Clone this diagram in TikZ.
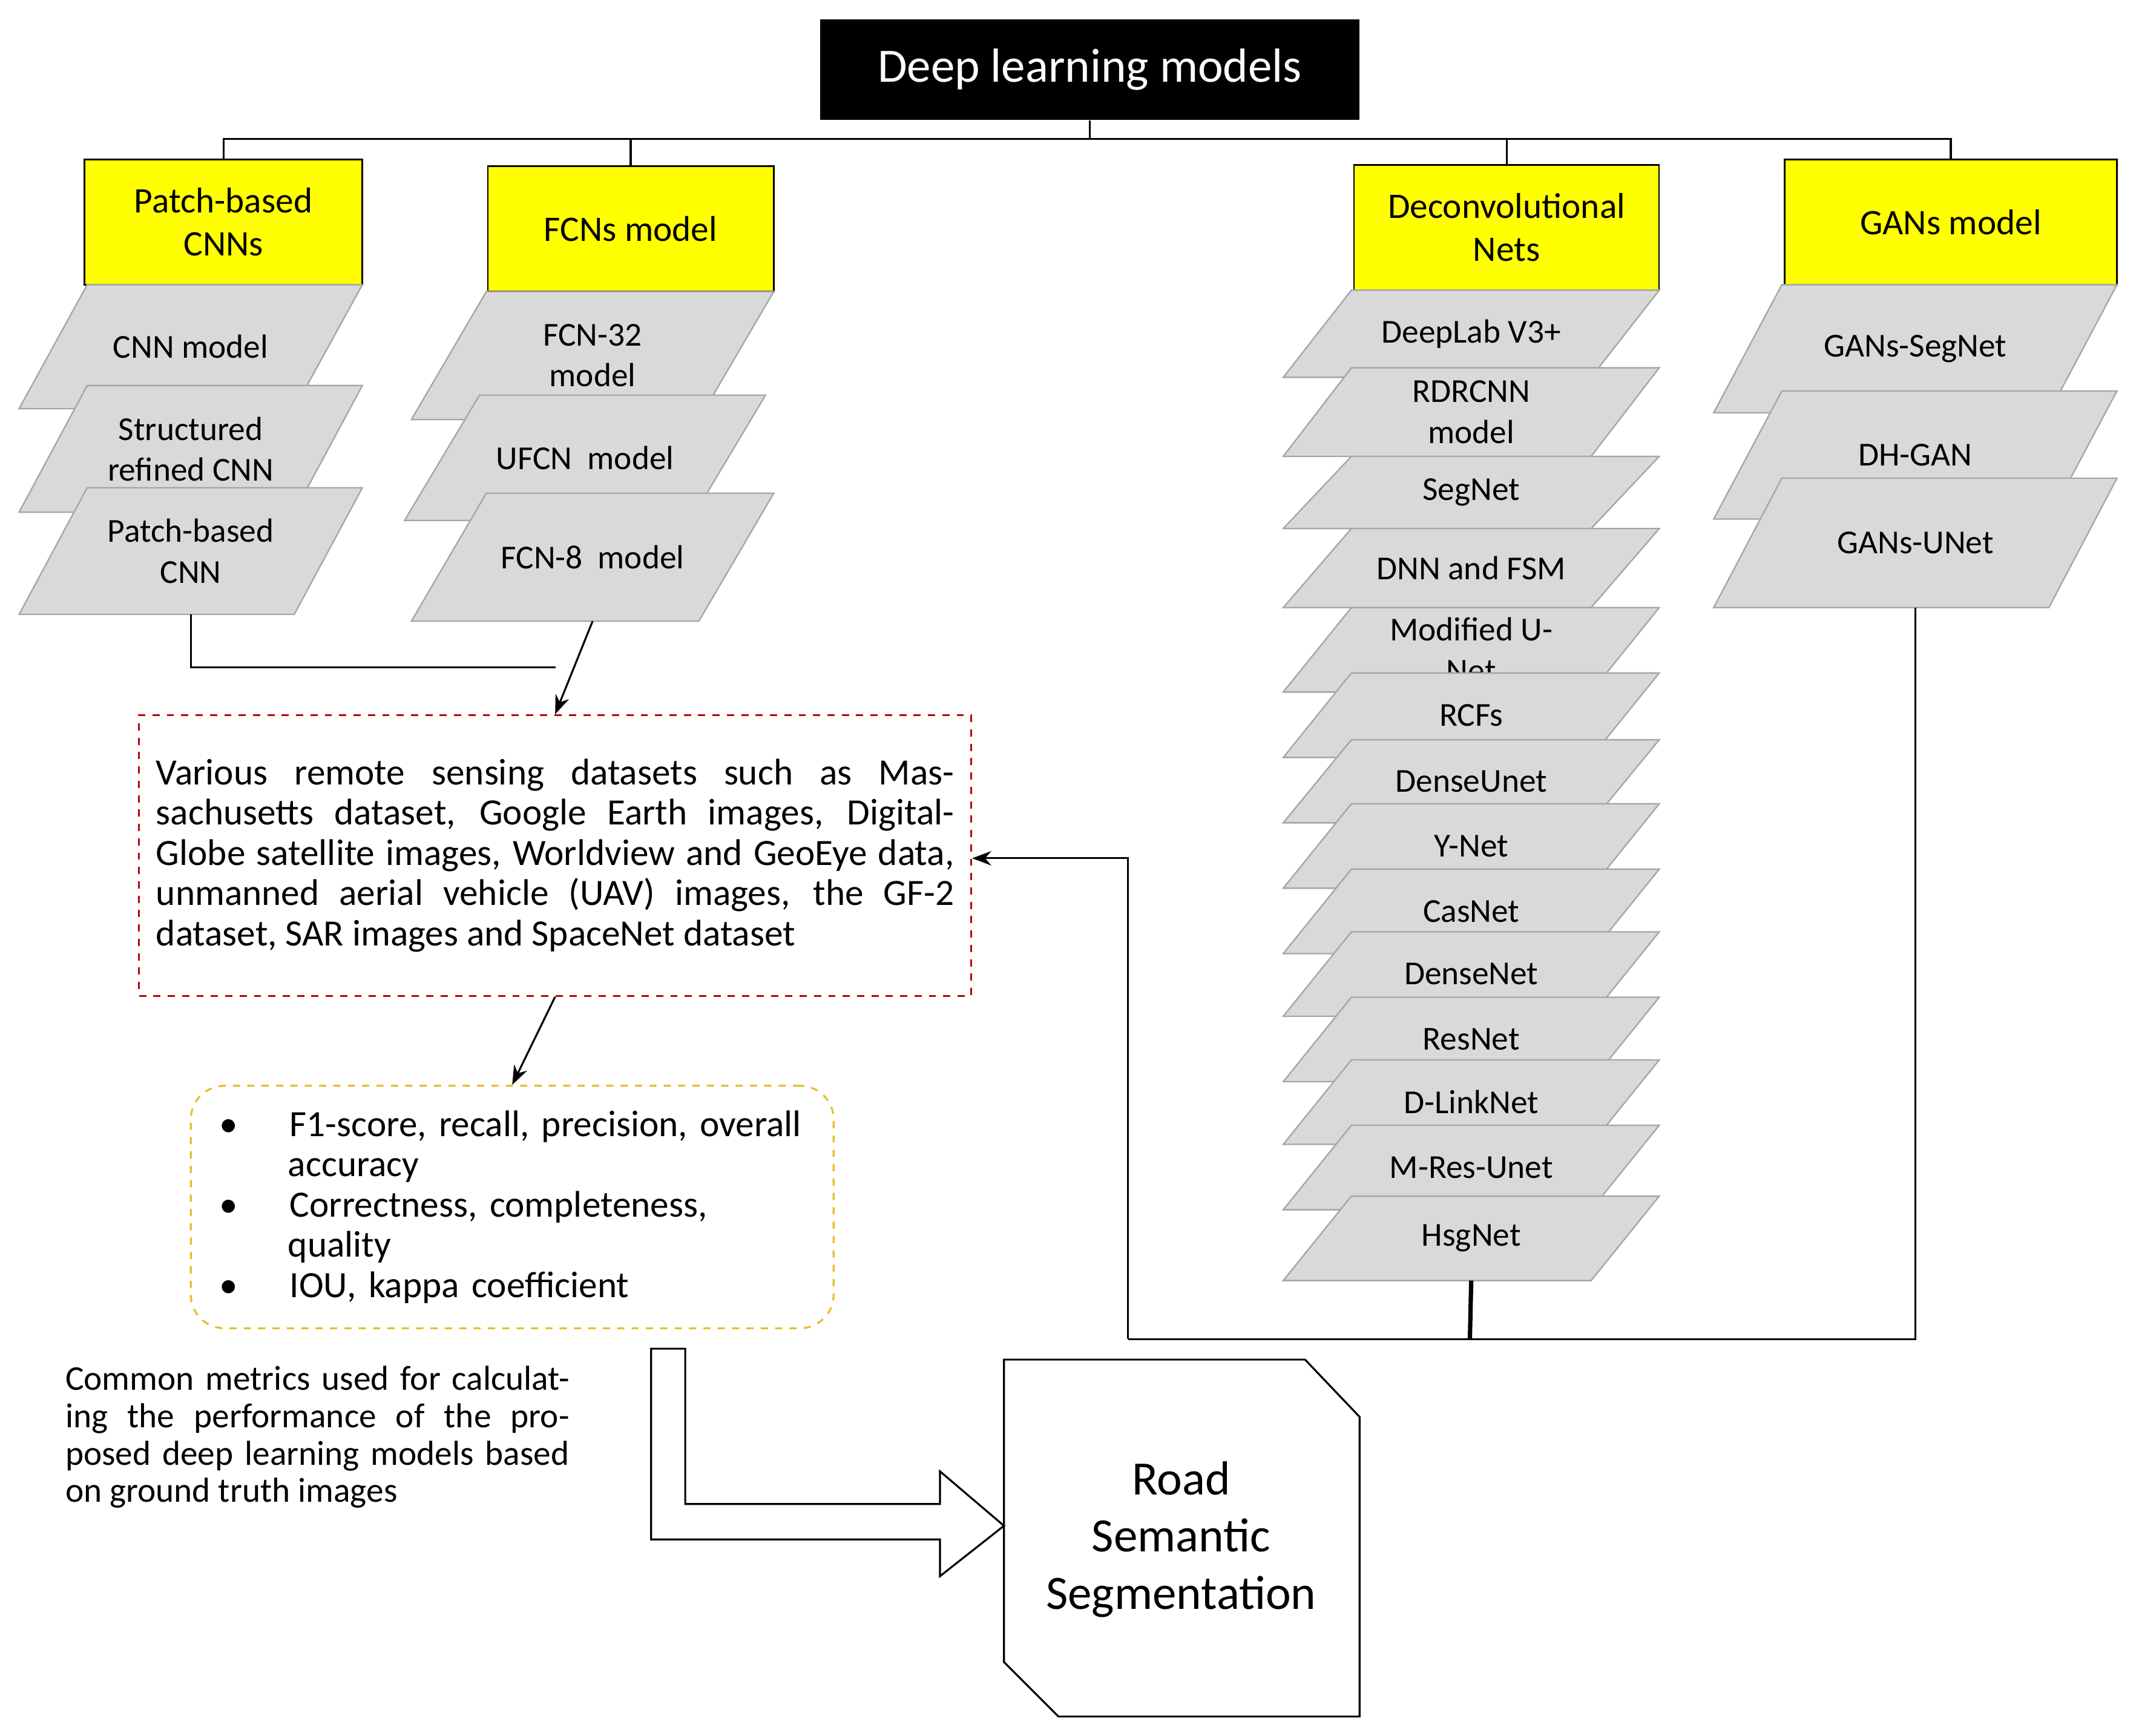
\documentclass[tikz,border=0pt]{standalone}
\usepackage{fontspec}
\setmainfont{Carlito}
\usetikzlibrary{calc,arrows.meta}
\definecolor{ybox}{RGB}{255,255,0}
\definecolor{gpar}{RGB}{217,217,217}
\definecolor{ddred}{RGB}{192,0,0}
\definecolor{ddyel}{RGB}{230,190,40}
\newcommand\fs[1]{\fontsize{#1}{\the\numexpr#1*6/5\relax}\selectfont}
% parallelogram: name, xl, xr, ytop, ybot, slant, text
\newcommand\plg[7]{%
  \draw[para] (#2+#6,#4) -- (#3,#4) -- (#3-#6,#5) -- (#2,#5) -- cycle;
  \node[ptext] (#1) at ({(#2+#3)/2},{(#4+#5)/2}) {#7};
  \coordinate (#1-b) at ({(#2+#3)/2},#5);}
\begin{document}
\begin{tikzpicture}[x=0.02cm,y=-0.02cm,
  para/.style={fill=gpar,draw=gray!70,line width=0.6pt},
  ptext/.style={font=\fs{14},align=center,inner sep=0pt},
  ybx/.style={fill=ybox,draw=black,line width=0.6pt,font=\fs{15},align=center},
  conn/.style={draw=black,line width=0.8pt},
  arr/.style={conn,-{Stealth[length=8pt,width=6pt]}}]
\useasboundingbox (0,0) rectangle (1568,1274);
% title
\node[fill=black,text=white,font=\fs{20},minimum width=7.92cm,minimum height=1.48cm] (title) at (800,51) {Deep learning models};
% category boxes
\node[ybx,minimum width=4.08cm,minimum height=1.84cm] (c1) at (164,163) {Patch-based\\CNNs};
\node[ybx,minimum width=4.2cm,minimum height=1.84cm] (c2) at (463,168) {FCNs model};
\node[ybx,minimum width=4.48cm,minimum height=1.84cm] (c3) at (1106,167) {Deconvolutional\\Nets};
\node[ybx,minimum width=4.88cm,minimum height=1.84cm] (c4) at (1432,163) {GANs model};
% tree
\coordinate (t0) at (800,102);
\draw[conn] (title.south) -- (t0);
\draw[conn] (c1.north) |- (t0) -| (c4.north);
\draw[conn] (c2.north) -- ++(0,-20);
\draw[conn] (c3.north) -- ++(0,-19);
% column 1
\plg{a1}{14}{266}{209}{300}{50}{CNN model}
\plg{a2}{14}{266}{283}{376}{50}{Structured\\refined CNN}
\plg{a3}{14}{266}{358}{451}{50}{Patch-based\\CNN}
% column 2
\plg{b1}{302}{568}{214}{308}{55}{FCN-32\\model}
\plg{b2}{297}{562}{290}{382}{55}{UFCN\ \ model}
\plg{b3}{302}{568}{362}{456}{55}{FCN-8\ \ model}
% column 3
\plg{d1}{942}{1218}{213}{277}{50}{DeepLab V3+}
\plg{d2}{942}{1218}{270}{335}{50}{RDRCNN\\model}
\plg{d3}{942}{1218}{335}{388}{50}{SegNet}
\plg{d4}{942}{1218}{388}{446}{50}{DNN and FSM}
\plg{d5}{942}{1218}{446}{508}{50}{Modified\ U-\\Net}
\plg{d6}{942}{1218}{494}{556}{50}{RCFs}
\plg{d7}{942}{1218}{543}{604}{50}{DenseUnet}
\plg{d8}{942}{1218}{590}{652}{50}{Y-Net}
\plg{d9}{942}{1218}{638}{700}{50}{CasNet}
\plg{d10}{942}{1218}{684}{746}{50}{DenseNet}
\plg{d11}{942}{1218}{732}{794}{50}{ResNet}
\plg{d12}{942}{1218}{778}{840}{50}{D-LinkNet}
\plg{d13}{942}{1218}{826}{888}{50}{M-Res-Unet}
\plg{d14}{942}{1218}{878}{940}{50}{HsgNet}
% column 4
\plg{e1}{1258}{1554}{209}{303}{50}{GANs-SegNet}
\plg{e2}{1258}{1554}{287}{381}{50}{DH-GAN}
\plg{e3}{1258}{1554}{351}{446}{50}{GANs-UNet}
% datasets
\node[draw=ddred,dashed,line width=0.8pt,minimum width=12.22cm,minimum height=4.12cm,text width=11.72cm,align=justify,font=\fontsize{15.5}{16.8pt}\selectfont,inner sep=0pt] (ds) at (407.5,628)
{Various remote sensing datasets such as Massachusetts dataset, Google Earth images, DigitalGlobe satellite images, Worldview and GeoEye data, unmanned aerial vehicle (UAV) images, the GF-2 dataset, SAR images and SpaceNet dataset};
% metrics
\node[draw=ddyel,dashed,rounded corners=14pt,line width=0.8pt,minimum width=9.44cm,minimum height=3.56cm,font=\fontsize{15.5}{16.8pt}\selectfont,align=left,text width=8.6cm,inner sep=0pt] (mt) at (376,886)
{\textbullet\hspace{1.4em}F1-score, recall, precision, overall\\
\hspace*{1.85em}accuracy\\
\textbullet\hspace{1.4em}Correctness, completeness,\\
\hspace*{1.85em}quality\\
\textbullet\hspace{1.4em}IOU, kappa coefficient};
\node[font=\fontsize{14.5}{15.6pt}\selectfont,text width=7.4cm,align=justify,inner sep=0pt] (cm) at (233,1055)
{Common metrics used for calculating the performance of the proposed deep learning models based on ground truth images};
% road box
\draw[line width=0.8pt] (737,998) -- (958,998) -- (998,1040) -- (998,1260) -- (777,1260) -- (737,1220) -- cycle;
\node[font=\fs{20},align=center] (rs) at (867,1130) {Road\\Semantic\\Segmentation};
\coordinate (rsw) at (737,1120);
% hollow arrow
\draw[line width=0.8pt] (478,990) -- (478,1130) -- (690,1130) -- (690,1157) -- (rsw) -- (690,1080) -- (690,1104) -- (503,1104) -- (503,990) -- cycle;
% connectors
\coordinate (j1) at (408,490);
\draw[conn] (a3-b) |- (j1);
\draw[arr] (b3-b) -- (ds.north);
\draw[arr] (ds.south) -- (mt.north);
\coordinate (j3) at (828,983);
\draw[conn,line width=1.8pt] (d14-b) -- (1079,983);
\draw[conn] (e3-b) |- (j3);
\draw[arr] (j3) |- (ds.east |- 0,630);
\end{tikzpicture}
\end{document}
